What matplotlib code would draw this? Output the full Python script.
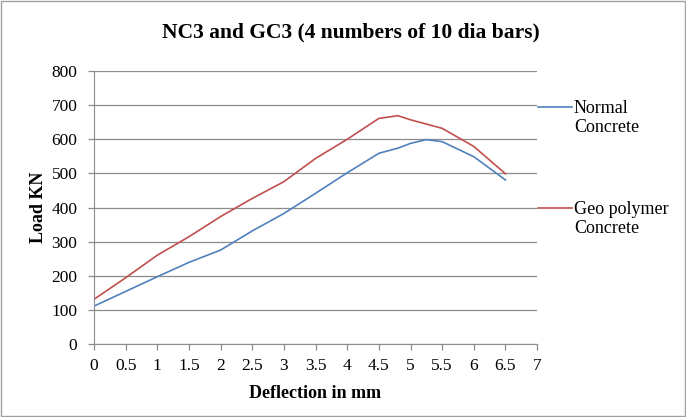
import matplotlib.pyplot as plt
from matplotlib.lines import Line2D
from matplotlib.patches import Rectangle

plt.rcParams['font.family'] = ['Liberation Serif', 'DejaVu Serif']

# Deflection (mm) vs load (kN)
nc_defl = [0, 1, 1.5, 2, 2.5, 3, 3.5, 4, 4.5, 4.8, 5.0, 5.25, 5.5, 6, 6.5]
nc_load = [112, 198, 240, 276, 332, 383, 442, 502, 559, 574, 588, 599, 593, 549, 481]

gc_defl = [0, 0, 0.5, 1, 1.5, 2, 2.5, 3, 3.5, 4, 4.5, 4.8, 5.0, 5.5, 6, 6.5]
gc_load = [0, 132, 195, 261, 315, 374, 427, 476, 544, 600, 661, 669, 657, 632, 579, 499]

x_ticks = [0, 0.5, 1, 1.5, 2, 2.5, 3, 3.5, 4, 4.5, 5, 5.5, 6, 6.5, 7]
y_ticks = [0, 100, 200, 300, 400, 500, 600, 700, 800]

blue = '#4F81BD'
red = '#C0504D'
grey = '#8C8C8C'

fig = plt.figure(figsize=(6.86, 4.17), dpi=100)
ax = fig.add_axes([0.137, 0.174, 0.646, 0.656])

ax.plot(nc_defl, nc_load, color=blue, lw=1.2)
ax.plot(gc_defl, gc_load, color=red, lw=1.2)

ax.set_xlim(0, 7)
ax.set_ylim(0, 800)
ax.set_xticks(x_ticks)
ax.set_xticklabels([f'{t:g}' for t in x_ticks])
ax.set_yticks(y_ticks)
ax.yaxis.grid(True, color=grey, lw=0.9)
ax.set_axisbelow(True)

for side in ['top', 'right']:
    ax.spines[side].set_visible(False)
for side in ['left', 'bottom']:
    ax.spines[side].set_color(grey)
ax.tick_params(colors=grey, labelcolor='black', labelsize=12.5, length=4, width=0.9)
ax.tick_params(axis='y', pad=8)
ax.tick_params(axis='x', pad=6)

fig.text(0.512, 1 - 32 / 417, 'NC3 and GC3 (4 numbers of 10 dia bars)',
         fontsize=15.5, fontweight='bold', ha='center', va='center')
ax.set_xlabel('Deflection in mm', fontsize=13, fontweight='bold', labelpad=8)
ax.set_ylabel('Load KN', fontsize=13, fontweight='bold', labelpad=3)

# legend drawn by hand to match the two-line labels
for ypix, col, label in [(107, blue, 'Normal\nConcrete'), (208, red, 'Geo polymer\nConcrete')]:
    yf = 1 - ypix / 417
    fig.add_artist(Line2D([538 / 686, 572 / 686], [yf, yf], color=col, lw=1.2))
    fig.text(574 / 686, 1 - (ypix + 11) / 417, label, fontsize=13, va='center', ha='left',
             linespacing=1.2)

fig.add_artist(Rectangle((0.001, 0.002), 0.997, 0.995, fill=False, edgecolor='#A0A0A0', lw=1,
                         transform=fig.transFigure))

fig.savefig('out.png', dpi=100)
